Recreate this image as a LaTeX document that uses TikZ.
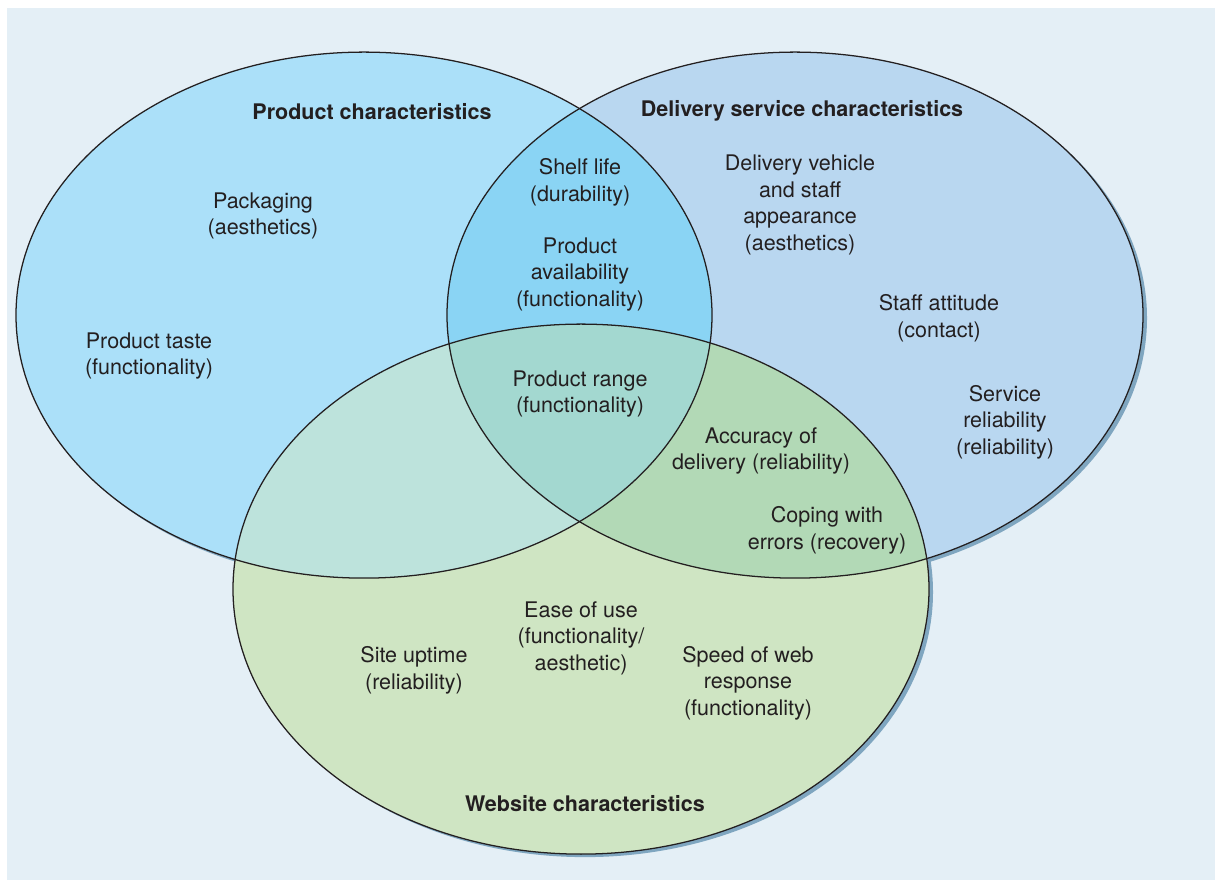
\documentclass[tikz,border=0pt]{standalone}
\usepackage{fontspec}
\setmainfont{TeX Gyre Heros}
\definecolor{panelbg}{HTML}{E4EFF6}
\definecolor{shadowblue}{HTML}{7FA6C0}
\definecolor{textgray}{HTML}{231F20}
\definecolor{prodfill}{HTML}{ABE0F9}
\definecolor{delfill}{HTML}{B9D7F0}
\definecolor{webfill}{HTML}{CFE5C3}
\definecolor{proddel}{HTML}{8AD4F4}
\definecolor{prodweb}{HTML}{BDE3DC}
\definecolor{delweb}{HTML}{B2D9B6}
\definecolor{allthree}{HTML}{A3D8D0}

\begin{document}
\begin{tikzpicture}[x=0.025cm,y=-0.025cm]
			\tikzset{every node/.style={inner sep=0pt, align=center, text=textgray, yshift=-1.5pt, font=\fontsize{15.3}{18.9}\selectfont},
				head/.style={font=\fontsize{15.3}{18.9}\selectfont\bfseries},
				rim/.style={draw=textgray, line width=0.9pt}}
			\useasboundingbox (0,0) rectangle (1215,880);
			\fill [panelbg] (7,8) rectangle (1215,880);
			\coordinate (pc) at (364,313);
			\coordinate (dc) at (795,313);
			\coordinate (wc) at (581,587);
			% shadows
			\fill [shadowblue] ([shift={(3,3)}]pc) ellipse (348 and 263);
			\fill [shadowblue] ([shift={(4,3)}]dc) ellipse (348 and 263);
			\fill [shadowblue] ([shift={(4,3)}]wc) ellipse (348 and 265);
			% sets
			\fill [prodfill] (pc) ellipse (348 and 263);
			\fill [delfill] (dc) ellipse (348 and 263);
			\fill [webfill] (wc) ellipse (348 and 265);
			% overlaps
			\begin{scope}
				\clip (pc) ellipse (348 and 263);
				\fill [proddel] (dc) ellipse (348 and 263);
				\fill [prodweb] (wc) ellipse (348 and 265);
			\end{scope}
			\begin{scope}
				\clip (dc) ellipse (348 and 263);
				\fill [delweb] (wc) ellipse (348 and 265);
			\end{scope}
			\begin{scope}
				\clip (pc) ellipse (348 and 263);
				\clip (dc) ellipse (348 and 263);
				\fill [allthree] (wc) ellipse (348 and 265);
			\end{scope}
			% outlines
			\draw [rim] (pc) ellipse (348 and 263);
			\draw [rim] (dc) ellipse (348 and 263);
			\draw [rim] (wc) ellipse (348 and 265);
			% headings
			\node [head] (prodhead) at (372,109) {Product characteristics};
			\node [head] (delhead) at (802,109) {Delivery service characteristics};
			\node [head] (webhead) at (585,801) {Website characteristics};
			% product only
			\node (packaging) at (263,214) {Packaging\\(aesthetics)};
			\node (taste) at (149,354) {Product taste\\(functionality)};
			% product and delivery
			\node (shelf) at (580,180) {Shelf life\\(durability)};
			\node (avail) at (580,272) {Product\\availability\\(functionality)};
			% delivery only
			\node (vehicle) at (800,203) {Delivery vehicle\\and staff\\appearance\\(aesthetics)};
			\node (attitude) at (939,316) {Staff attitude\\(contact)};
			\node (servrel) at (1005,420) {Service\\reliability\\(reliability)};
			% all three
			\node (range) at (580,392) {Product range\\(functionality)};
			% delivery and website
			\node (accuracy) at (761,449) {Accuracy of\\delivery (reliability)};
			\node (coping) at (827,528) {Coping with\\errors (recovery)};
			% website only
			\node (ease) at (581,636) {Ease of use\\(functionality/\\aesthetic)};
			\node (uptime) at (414,668) {Site uptime\\(reliability)};
			\node (speed) at (748,681) {Speed of web\\response\\(functionality)};
		\end{tikzpicture}
\end{document}
